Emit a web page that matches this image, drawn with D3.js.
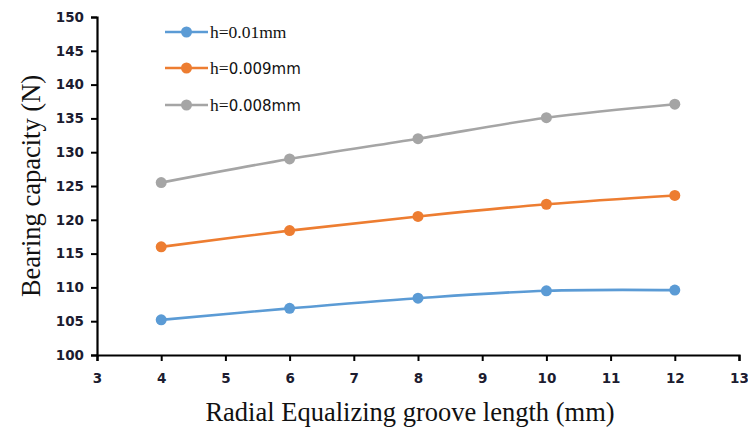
<!DOCTYPE html>
<html>
<head>
<meta charset="utf-8">
<script src="https://cdn.jsdelivr.net/npm/d3@7"></script>
<style>
  html, body { margin: 0; padding: 0; background: #fff; }
  svg { display: block; }
</style>
</head>
<body>
<svg id="chart" width="748" height="428"></svg>
<script>
// Groove length (mm) at which bearing capacity was computed
const grooveLength = [4, 6, 8, 10, 12];

// Bearing capacity (N) for each film thickness
const cap001 = [105.2, 106.9, 108.4, 109.5, 109.6];
const cap0009 = [116.0, 118.4, 120.5, 122.3, 123.6];
const cap0008 = [125.5, 129.0, 132.0, 135.1, 137.1];

const seriesNames = ["h=0.01mm", "h=0.009mm", "h=0.008mm"];
const seriesColors = ["#5B9BD5", "#ED7D31", "#A5A5A5"];

const xTicks = [3, 4, 5, 6, 7, 8, 9, 10, 11, 12, 13];
const yTicks = [100, 105, 110, 115, 120, 125, 130, 135, 140, 145, 150];

const series = [cap001, cap0009, cap0008].map((vals, i) => ({
  name: seriesNames[i],
  color: seriesColors[i],
  points: grooveLength.map((x, j) => ({ x, y: vals[j] }))
}));

const svg = d3.select("#chart");
const plot = { left: 97, right: 739, top: 17, bottom: 355 };

const x = d3.scaleLinear().domain([3, 13]).range([plot.left, plot.right]);
const y = d3.scaleLinear().domain([100, 150]).range([plot.bottom, plot.top]);

// Axes
const xAxis = svg.append("g")
  .attr("transform", `translate(0,${plot.bottom})`)
  .call(d3.axisBottom(x).tickValues(xTicks).tickFormat(d3.format("d")).tickSizeOuter(0).tickSize(6).tickPadding(12));
const yAxis = svg.append("g")
  .attr("transform", `translate(${plot.left},0)`)
  .call(d3.axisLeft(y).tickValues(yTicks).tickFormat(d3.format("d")).tickSizeOuter(0).tickSize(6).tickPadding(7));

[xAxis, yAxis].forEach(g => {
  g.select(".domain").attr("stroke", "#000").attr("stroke-width", 2.2);
  g.selectAll(".tick line").attr("stroke", "#000").attr("stroke-width", 2);
  g.selectAll(".tick text")
    .attr("fill", "#1c1c30")
    .style("font-family", "'DejaVu Sans', sans-serif")
    .style("font-size", "13.5px")
    .style("font-weight", "600");
});

// Series lines and markers
const line = d3.line()
  .x(d => x(d.x))
  .y(d => y(d.y))
  .curve(d3.curveCatmullRom.alpha(0.5));

series.forEach(s => {
  svg.append("path")
    .datum(s.points)
    .attr("d", line)
    .attr("fill", "none")
    .attr("stroke", s.color)
    .attr("stroke-width", 2.6);
  svg.selectAll(null)
    .data(s.points)
    .enter().append("circle")
    .attr("cx", d => x(d.x))
    .attr("cy", d => y(d.y))
    .attr("r", 5.5)
    .attr("fill", s.color);
});

// Legend
const legendY = [32, 68, 105];
series.forEach((s, i) => {
  const g = svg.append("g").attr("transform", `translate(165,${legendY[i]})`);
  g.append("line").attr("x1", 0).attr("x2", 43).attr("y1", 0).attr("y2", 0)
    .attr("stroke", s.color).attr("stroke-width", 2.6);
  g.append("circle").attr("cx", 21.5).attr("cy", 0).attr("r", 5.5).attr("fill", s.color);
  const t = g.append("text").attr("x", 45).attr("y", 6).attr("fill", "#111")
    .style("font-size", "17.5px");
  if (i === 0) {
    t.style("font-family", "'Liberation Serif', serif").text(s.name);
  } else {
    t.append("tspan").style("font-family", "'Liberation Serif', serif").text("h=");
    t.append("tspan").style("font-family", "'DejaVu Sans', sans-serif").style("font-size", "15px")
      .text(s.name.slice(2));
  }
});

// Axis titles
svg.append("text")
  .attr("x", 410)
  .attr("y", 421)
  .attr("text-anchor", "middle")
  .attr("fill", "#111")
  .style("font-family", "'Liberation Serif', serif")
  .style("font-size", "26.5px")
  .text("Radial Equalizing groove length (mm)");

svg.append("text")
  .attr("transform", `translate(40,186) rotate(-90)`)
  .attr("text-anchor", "middle")
  .attr("fill", "#111")
  .style("font-family", "'Liberation Serif', serif")
  .style("font-size", "26.5px")
  .text("Bearing capacity (N)");
</script>
</body>
</html>
